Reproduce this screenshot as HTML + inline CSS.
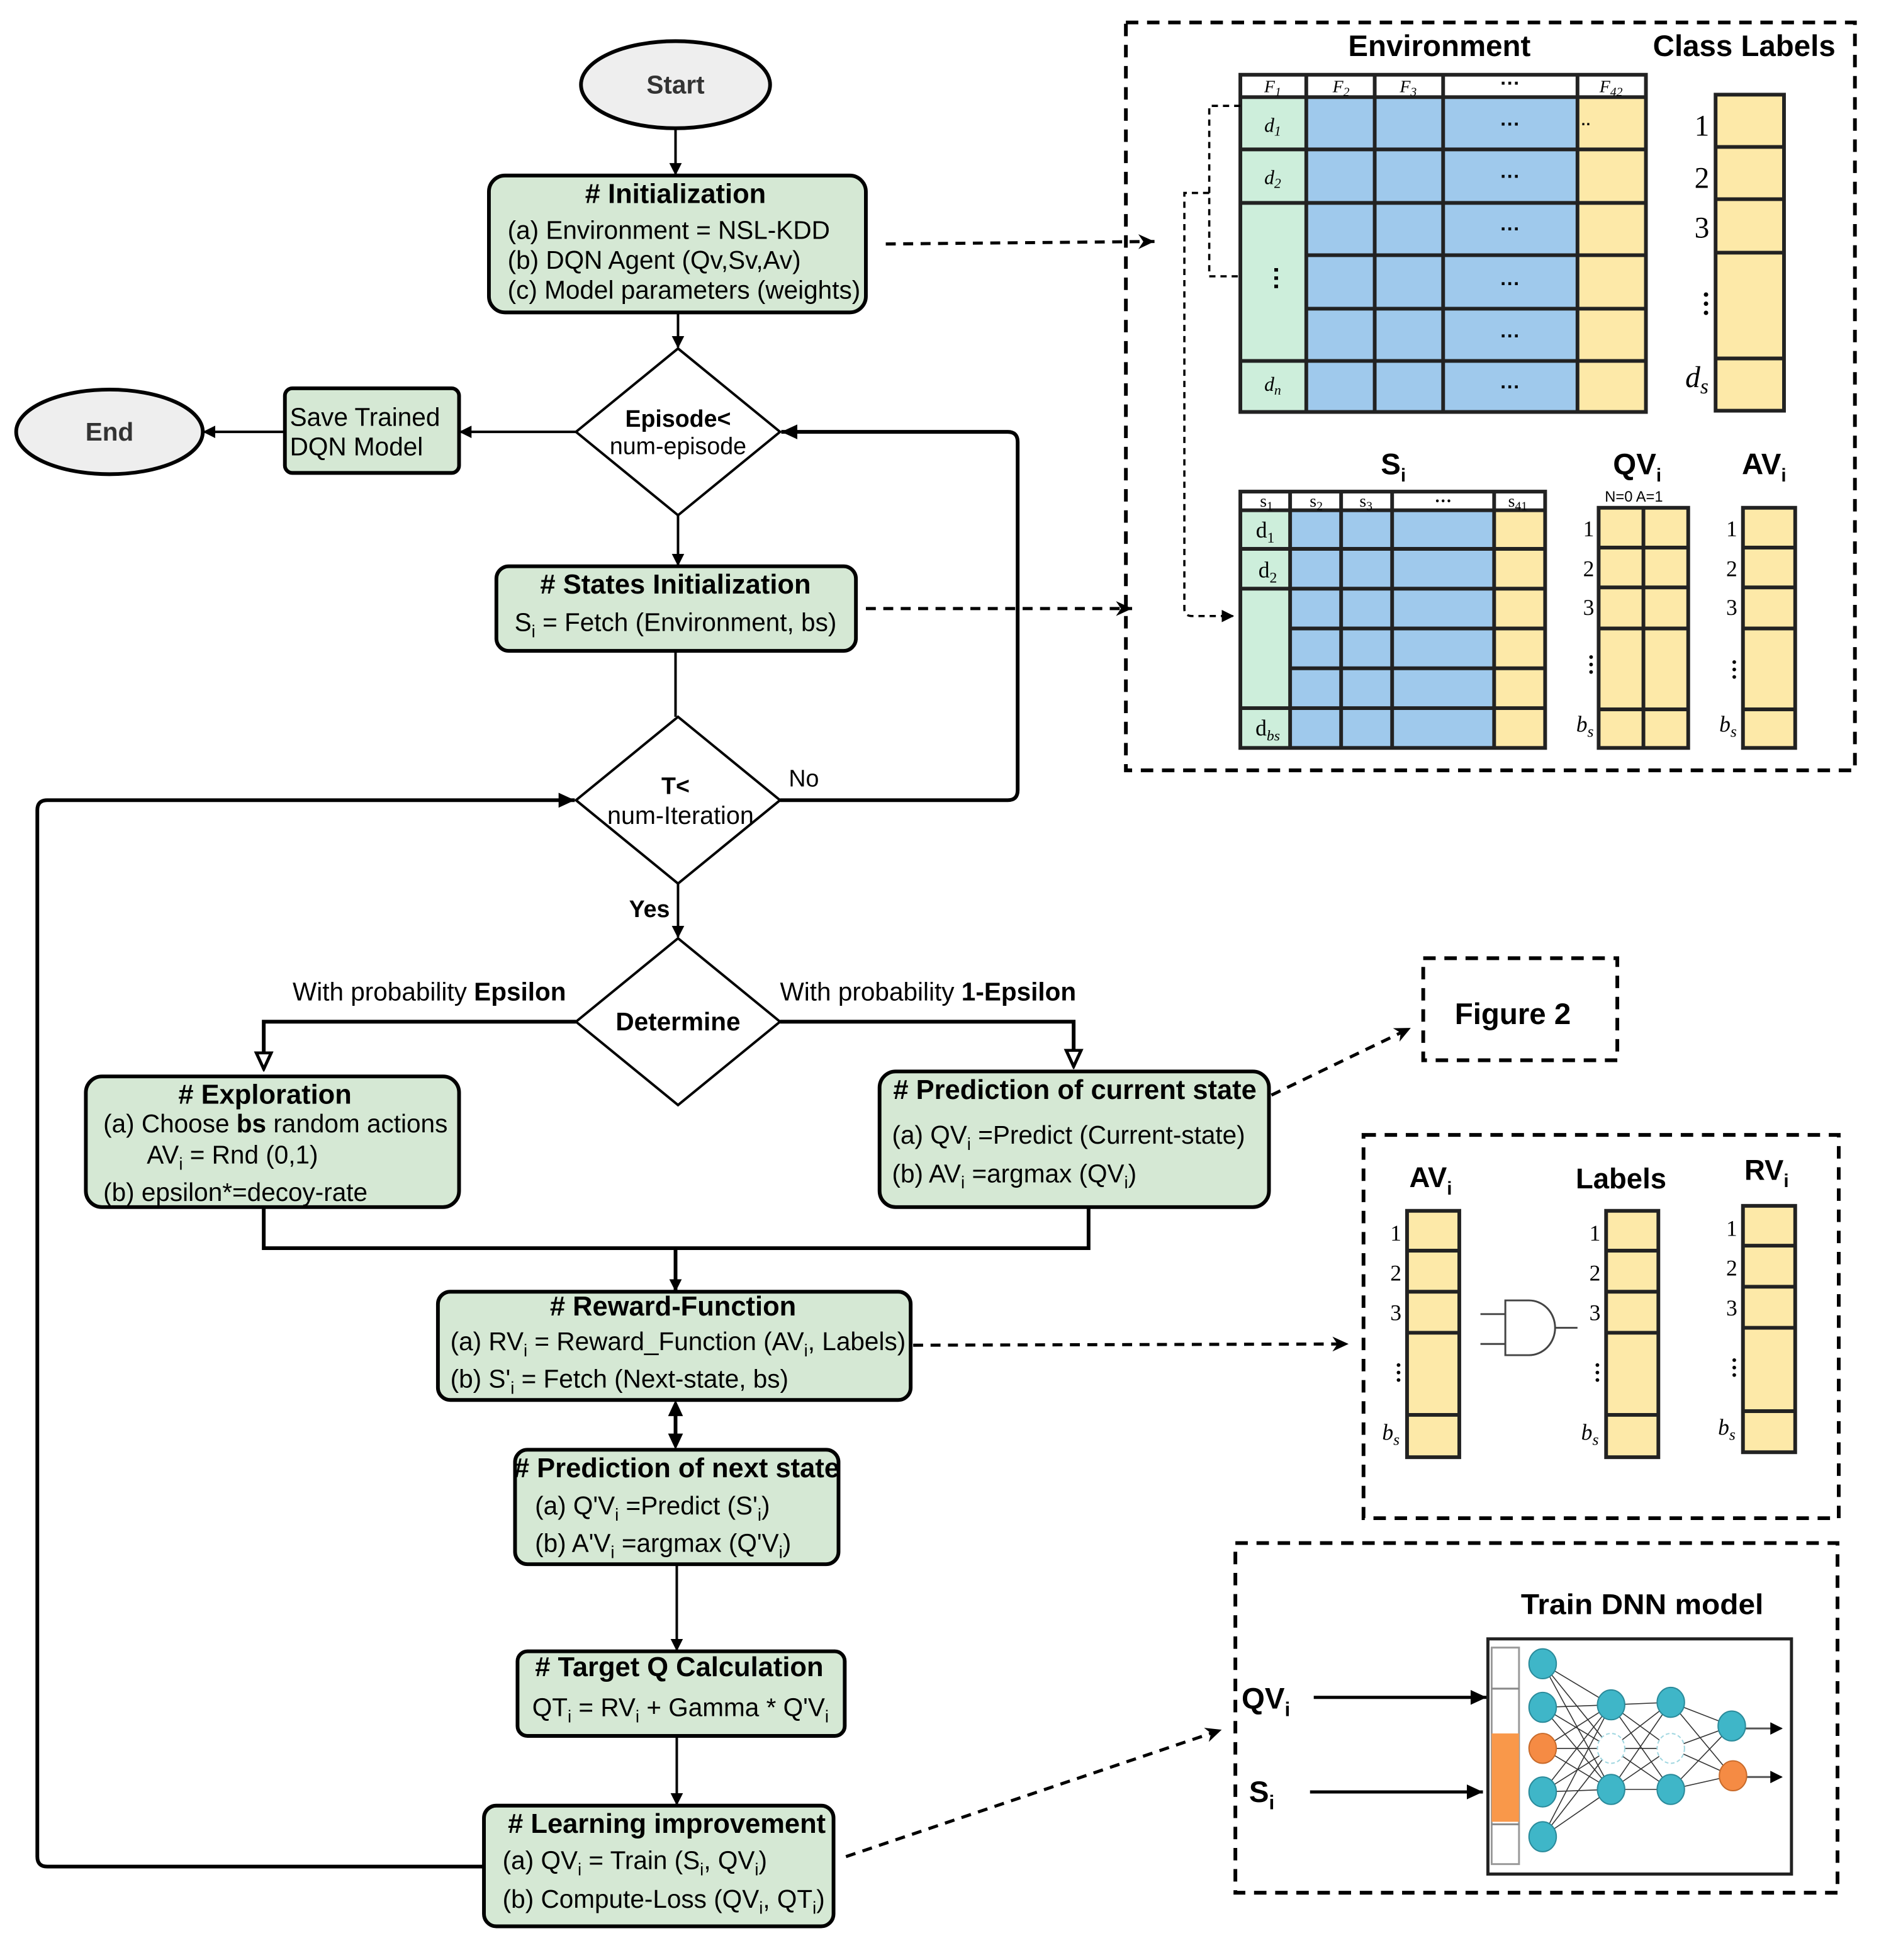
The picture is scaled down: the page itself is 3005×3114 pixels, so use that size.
<!DOCTYPE html>
<html><head><meta charset="utf-8"><style>html,body{margin:0;padding:0;background:#fff}svg{display:block}</style></head>
<body>
<svg xmlns="http://www.w3.org/2000/svg" width="3005" height="3114" viewBox="0 0 1520 1575" font-family="'Liberation Sans', sans-serif">
<defs>
<marker id="a" markerWidth="10" markerHeight="10" refX="9" refY="5" orient="auto" markerUnits="userSpaceOnUse"><path d="M0,0 L10,5 L0,10 z" fill="#000"/></marker>
<marker id="b" markerWidth="14" markerHeight="14" refX="13" refY="7" orient="auto" markerUnits="userSpaceOnUse"><path d="M0,1 L13,7 L0,13 z" fill="#000"/></marker>
<marker id="o" markerWidth="16" markerHeight="16" refX="14" refY="8" orient="auto" markerUnits="userSpaceOnUse"><path d="M1,2 L14,8 L1,14 z" fill="#fff" stroke="#000" stroke-width="2.5"/></marker>
<marker id="d" markerWidth="14" markerHeight="12" refX="13" refY="6" orient="auto" markerUnits="userSpaceOnUse"><path d="M0,0 L13,6 L0,12 L4,6 z" fill="#000"/></marker>
</defs>
<rect width="1520" height="1575" fill="#fff"/>

<g stroke="#000" stroke-width="3">
<ellipse cx="543" cy="68" rx="76" ry="35" fill="#eeeeee"/>
<ellipse cx="88" cy="347" rx="75" ry="34" fill="#eeeeee"/>
<rect x="393" y="141" width="303" height="110" rx="13" fill="#d5e8d4"/>
<rect x="229" y="312" width="140" height="68" rx="6" fill="#d5e8d4"/>
<polygon points="545,280 627,347 545,414 463,347" fill="#fff" stroke-width="2"/>
<rect x="399" y="455" width="289" height="68" rx="10" fill="#d5e8d4"/>
<polygon points="545,576 627,643 545,710 463,643" fill="#fff" stroke-width="2"/>
<polygon points="545,754 627,821 545,888 463,821" fill="#fff" stroke-width="2"/>
<rect x="69" y="865" width="300" height="105" rx="13" fill="#d5e8d4"/>
<rect x="707" y="861" width="313" height="109" rx="13" fill="#d5e8d4"/>
<rect x="352" y="1038" width="380" height="87" rx="10" fill="#d5e8d4"/>
<rect x="414" y="1165" width="260" height="92" rx="10" fill="#d5e8d4"/>
<rect x="416" y="1327" width="263" height="68" rx="8" fill="#d5e8d4"/>
<rect x="389" y="1451" width="281" height="97" rx="10" fill="#d5e8d4"/>
</g>

<g stroke="#000" stroke-width="2" fill="none">
<line x1="543" y1="103" x2="543" y2="140" marker-end="url(#a)"/>
<line x1="545" y1="251" x2="545" y2="279" marker-end="url(#a)"/>
<line x1="463" y1="347" x2="370" y2="347" marker-end="url(#a)"/>
<line x1="229" y1="347" x2="164" y2="347" marker-end="url(#a)"/>
<line x1="545" y1="414" x2="545" y2="454" marker-end="url(#a)"/>
<line x1="543" y1="523" x2="543" y2="576"/>
<path d="M627,643 L810,643 Q818,643 818,635 L818,355 Q818,347 810,347 L628,347" stroke-width="3" marker-end="url(#b)"/>
<path d="M389,1500 L38,1500 Q30,1500 30,1492 L30,651 Q30,643 38,643 L462,643" stroke-width="3" marker-end="url(#b)"/>
<line x1="545" y1="710" x2="545" y2="753" marker-end="url(#a)"/>
<path d="M463,821 L212,821 L212,859" stroke-width="3" marker-end="url(#o)"/>
<path d="M627,821 L863,821 L863,857" stroke-width="3" marker-end="url(#o)"/>
<path d="M212,970 L212,1003 L875,1003 L875,970" stroke-width="3"/>
<line x1="543" y1="1003" x2="543" y2="1037" stroke-width="3" marker-end="url(#a)"/>
<line x1="543" y1="1135" x2="543" y2="1155" stroke-width="3"/>
<path d="M543,1125 L537,1138 L549,1138 z M543,1165 L537,1152 L549,1152 z" fill="#000" stroke="none"/>
<line x1="544" y1="1257" x2="544" y2="1326" marker-end="url(#a)"/>
<line x1="544" y1="1395" x2="544" y2="1450" marker-end="url(#a)"/>
</g>

<g stroke="#000" stroke-width="2.5" fill="none" stroke-dasharray="8,6">
<path d="M712,196 L928,194" marker-end="url(#d)"/>
<path d="M696,489 L910,489" marker-end="url(#d)"/>
<path d="M1022,880 L1134,826" marker-end="url(#d)"/>
<path d="M734,1081 L1084,1080" marker-end="url(#d)"/>
<path d="M680,1492 L982,1390" marker-end="url(#d)"/>
</g>

<g font-size="20.5" fill="#000">
<text x="543" y="75" text-anchor="middle" font-weight="bold" fill="#333">Start</text>
<text x="88" y="354" text-anchor="middle" font-weight="bold" fill="#333">End</text>
<text x="543" y="163" text-anchor="middle" font-weight="bold" font-size="22"># Initialization</text>
<text x="408" y="192">(a) Environment = NSL-KDD</text>
<text x="408" y="216">(b) DQN Agent (Qv,Sv,Av)</text>
<text x="408" y="240">(c) Model parameters (weights)</text>
<text x="233" y="342">Save Trained</text>
<text x="233" y="366">DQN Model</text>
<text x="545" y="343" text-anchor="middle" font-weight="bold" font-size="19">Episode&lt;</text>
<text x="545" y="365" text-anchor="middle" font-size="19">num-episode</text>
<text x="543" y="477" text-anchor="middle" font-weight="bold" font-size="22"># States Initialization</text>
<text x="543" y="507" text-anchor="middle">S<tspan font-size="14" dy="5">i</tspan><tspan dy="-5"> = Fetch (Environment, bs)</tspan></text>
<text x="543" y="638" text-anchor="middle" font-weight="bold" font-size="19">T&lt;</text>
<text x="547" y="662" text-anchor="middle" font-size="20">num-Iteration</text>
<text x="634" y="632" font-size="19">No</text>
<text x="522" y="737" text-anchor="middle" font-weight="bold" font-size="19">Yes</text>
<text x="545" y="828" text-anchor="middle" font-weight="bold">Determine</text>
<text x="455" y="804" text-anchor="end">With probability <tspan font-weight="bold">Epsilon</tspan></text>
<text x="627" y="804">With probability <tspan font-weight="bold">1-Epsilon</tspan></text>
<text x="213" y="887" text-anchor="middle" font-weight="bold" font-size="22"># Exploration</text>
<text x="83" y="910">(a) Choose <tspan font-weight="bold">bs</tspan> random actions</text>
<text x="118" y="935">AV<tspan font-size="14" dy="5">i</tspan><tspan dy="-5"> = Rnd (0,1)</tspan></text>
<text x="83" y="965">(b) epsilon*=decoy-rate</text>
<text x="864" y="883" text-anchor="middle" font-weight="bold" font-size="22"># Prediction of current state</text>
<text x="717" y="919">(a) QV<tspan font-size="14" dy="5">i</tspan><tspan dy="-5"> =Predict (Current-state)</tspan></text>
<text x="717" y="950">(b) AV<tspan font-size="14" dy="5">i</tspan><tspan dy="-5"> =argmax (QV</tspan><tspan font-size="14" dy="5">i</tspan><tspan dy="-5">)</tspan></text>
<text x="541" y="1057" text-anchor="middle" font-weight="bold" font-size="22"># Reward-Function</text>
<text x="362" y="1085">(a) RV<tspan font-size="14" dy="5">i</tspan><tspan dy="-5"> = Reward_Function (AV</tspan><tspan font-size="14" dy="5">i</tspan><tspan dy="-5">, Labels)</tspan></text>
<text x="362" y="1115">(b) S'<tspan font-size="14" dy="5">i</tspan><tspan dy="-5"> = Fetch (Next-state, bs)</tspan></text>
<text x="544" y="1187" text-anchor="middle" font-weight="bold" font-size="22"># Prediction of next state</text>
<text x="430" y="1217">(a) Q'V<tspan font-size="14" dy="5">i</tspan><tspan dy="-5"> =Predict (S'</tspan><tspan font-size="14" dy="5">i</tspan><tspan dy="-5">)</tspan></text>
<text x="430" y="1247">(b) A'V<tspan font-size="14" dy="5">i</tspan><tspan dy="-5"> =argmax (Q'V</tspan><tspan font-size="14" dy="5">i</tspan><tspan dy="-5">)</tspan></text>
<text x="546" y="1347" text-anchor="middle" font-weight="bold" font-size="22"># Target Q Calculation</text>
<text x="547" y="1379" text-anchor="middle">QT<tspan font-size="14" dy="5">i</tspan><tspan dy="-5"> = RV</tspan><tspan font-size="14" dy="5">i</tspan><tspan dy="-5"> + Gamma * Q'V</tspan><tspan font-size="14" dy="5">i</tspan></text>
<text x="536" y="1473" text-anchor="middle" font-weight="bold" font-size="22"># Learning improvement</text>
<text x="404" y="1502">(a) QV<tspan font-size="14" dy="5">i</tspan><tspan dy="-5"> = Train (S</tspan><tspan font-size="14" dy="5">i</tspan><tspan dy="-5">, QV</tspan><tspan font-size="14" dy="5">i</tspan><tspan dy="-5">)</tspan></text>
<text x="404" y="1533">(b) Compute-Loss (QV<tspan font-size="14" dy="5">i</tspan><tspan dy="-5">, QT</tspan><tspan font-size="14" dy="5">i</tspan><tspan dy="-5">)</tspan></text>
</g>

<rect x="905" y="18" width="586" height="601" fill="none" stroke="#000" stroke-width="3" stroke-dasharray="10,7"/>
<g font-weight="bold" font-size="24" fill="#000" text-anchor="middle">
<text x="1157" y="45">Environment</text>
<text x="1402" y="45">Class Labels</text>
<text x="1120" y="381">S<tspan font-size="15" dy="6">i</tspan></text>
<text x="1316" y="381">QV<tspan font-size="15" dy="6">i</tspan></text>
<text x="1418" y="381">AV<tspan font-size="15" dy="6">i</tspan></text>
</g>
<rect x="997" y="60" width="326" height="18" fill="#fff"/>
<rect x="997" y="78" width="53" height="253" fill="#cdeedb"/>
<rect x="1050" y="78" width="218" height="253" fill="#9fc9ec"/>
<rect x="1268" y="78" width="55" height="253" fill="#fde9a8"/>
<g stroke="#222" stroke-width="3" fill="none">
<rect x="997" y="60" width="326" height="271"/>
<line x1="997" y1="78" x2="1323" y2="78"/>
<line x1="997" y1="120" x2="1323" y2="120"/>
<line x1="997" y1="163" x2="1323" y2="163"/>
<line x1="1050" y1="205" x2="1323" y2="205"/>
<line x1="1050" y1="248" x2="1323" y2="248"/>
<line x1="997" y1="290" x2="1323" y2="290"/>
<line x1="1050" y1="60" x2="1050" y2="331"/>
<line x1="1105" y1="60" x2="1105" y2="331"/>
<line x1="1160" y1="60" x2="1160" y2="331"/>
<line x1="1268" y1="60" x2="1268" y2="331"/>
</g>
<g font-family="'Liberation Serif', serif" font-style="italic" font-size="14" text-anchor="middle" fill="#000">
<text x="1023" y="74">F<tspan font-size="10" dy="3">1</tspan></text>
<text x="1078" y="74">F<tspan font-size="10" dy="3">2</tspan></text>
<text x="1132" y="74">F<tspan font-size="10" dy="3">3</tspan></text>
<text x="1295" y="74">F<tspan font-size="10" dy="3">42</tspan></text>
<text x="1023" y="106" font-size="16">d<tspan font-size="11" dy="3">1</tspan></text>
<text x="1023" y="148" font-size="16">d<tspan font-size="11" dy="3">2</tspan></text>
<text x="1023" y="314" font-size="16">d<tspan font-size="11" dy="3">n</tspan></text>
</g>
<g font-size="16" font-weight="bold" text-anchor="middle" fill="#000">
<text x="1214" y="72">···</text><text x="1214" y="105">···</text><text x="1214" y="147">···</text><text x="1214" y="189">···</text><text x="1214" y="233">···</text><text x="1214" y="275">···</text><text x="1214" y="316">···</text>
<text x="1275" y="104" font-size="12">··</text>
<text x="1025" y="230" font-size="20" transform="rotate(90 1025 224)">···</text>
</g>
<rect x="1379" y="76" width="55" height="254" fill="#fde9a8" stroke="#222" stroke-width="3"/>
<g stroke="#222" stroke-width="3"><line x1="1379" y1="118" x2="1434" y2="118"/><line x1="1379" y1="160" x2="1434" y2="160"/><line x1="1379" y1="203" x2="1434" y2="203"/><line x1="1379" y1="288" x2="1434" y2="288"/></g>
<g font-family="'Liberation Serif', serif" font-size="24" text-anchor="middle" fill="#000">
<text x="1368" y="109">1</text><text x="1368" y="151">2</text><text x="1368" y="191">3</text>
<text x="1368" y="248" font-size="22" font-weight="bold" transform="rotate(90 1368 244)">···</text>
<text x="1364" y="311" font-style="italic">d<tspan font-size="17" dy="5">s</tspan></text>
</g>
<g stroke="#000" stroke-width="1.8" fill="none" stroke-dasharray="5,4">
<path d="M997,85 L972,85 L972,222 L997,222"/>
<path d="M972,155 L952,155 L952,489 Q952,495 958,495 L991,495" marker-end="url(#a)"/>
</g>
<rect x="997" y="395" width="245" height="15" fill="#fff"/>
<rect x="997" y="410" width="40" height="191" fill="#cdeedb"/>
<rect x="1037" y="410" width="164" height="191" fill="#9fc9ec"/>
<rect x="1201" y="410" width="41" height="191" fill="#fde9a8"/>
<g stroke="#222" stroke-width="3" fill="none">
<rect x="997" y="395" width="245" height="206"/>
<line x1="997" y1="410" x2="1242" y2="410"/>
<line x1="997" y1="441" x2="1242" y2="441"/>
<line x1="997" y1="473" x2="1242" y2="473"/>
<line x1="1037" y1="505" x2="1242" y2="505"/>
<line x1="1037" y1="537" x2="1242" y2="537"/>
<line x1="997" y1="569" x2="1242" y2="569"/>
<line x1="1037" y1="395" x2="1037" y2="601"/>
<line x1="1078" y1="395" x2="1078" y2="601"/>
<line x1="1119" y1="395" x2="1119" y2="601"/>
<line x1="1201" y1="395" x2="1201" y2="601"/>
</g>
<g font-family="'Liberation Serif', serif" font-size="14" text-anchor="middle" fill="#000">
<text x="1018" y="407">s<tspan font-size="10" dy="3">1</tspan></text>
<text x="1058" y="407">s<tspan font-size="10" dy="3">2</tspan></text>
<text x="1098" y="407">s<tspan font-size="10" dy="3">3</tspan></text>
<text x="1160" y="407" font-weight="bold">···</text>
<text x="1220" y="407">s<tspan font-size="10" dy="3">41</tspan></text>
<text x="1017" y="432" font-size="18">d<tspan font-size="12" dy="4">1</tspan></text>
<text x="1019" y="464" font-size="18">d<tspan font-size="12" dy="4">2</tspan></text>
<text x="1019" y="591" font-size="18">d<tspan font-size="12" dy="4" font-style="italic">bs</tspan></text>
</g>
<text x="1290" y="403" font-size="12" fill="#000">N=0  A=1</text>
<rect x="1285" y="408" width="72" height="193" fill="#fde9a8" stroke="#222" stroke-width="3"/>
<g stroke="#222" stroke-width="3"><line x1="1321" y1="408" x2="1321" y2="601"/><line x1="1285" y1="440" x2="1357" y2="440"/><line x1="1285" y1="472" x2="1357" y2="472"/><line x1="1285" y1="505" x2="1357" y2="505"/><line x1="1285" y1="570" x2="1357" y2="570"/></g>
<rect x="1401" y="408" width="42" height="193" fill="#fde9a8" stroke="#222" stroke-width="3"/>
<g stroke="#222" stroke-width="3"><line x1="1401" y1="440" x2="1443" y2="440"/><line x1="1401" y1="472" x2="1443" y2="472"/><line x1="1401" y1="505" x2="1443" y2="505"/><line x1="1401" y1="570" x2="1443" y2="570"/></g>
<g font-family="'Liberation Serif', serif" font-size="18" text-anchor="middle" fill="#000">
<text x="1277" y="431">1</text><text x="1277" y="463">2</text><text x="1277" y="494">3</text>
<text x="1277" y="538" font-weight="bold" transform="rotate(90 1277 534)">···</text>
<text x="1274" y="588" font-style="italic">b<tspan font-size="13" dy="4">s</tspan></text>
<text x="1392" y="431">1</text><text x="1392" y="463">2</text><text x="1392" y="494">3</text>
<text x="1392" y="542" font-weight="bold" transform="rotate(90 1392 538)">···</text>
<text x="1389" y="588" font-style="italic">b<tspan font-size="13" dy="4">s</tspan></text>
</g>

<rect x="1144" y="770" width="156" height="82" fill="none" stroke="#000" stroke-width="3" stroke-dasharray="10,7"/>
<text x="1216" y="823" text-anchor="middle" font-weight="bold" font-size="24">Figure 2</text>

<rect x="1096" y="912" width="382" height="308" fill="none" stroke="#000" stroke-width="3" stroke-dasharray="10,7"/>
<g font-weight="bold" font-size="23" text-anchor="middle" fill="#000">
<text x="1150" y="954">AV<tspan font-size="15" dy="6">i</tspan></text>
<text x="1303" y="955">Labels</text>
<text x="1420" y="948">RV<tspan font-size="15" dy="6">i</tspan></text>
</g>
<g stroke="#222" stroke-width="3" fill="#fde9a8">
<rect x="1131" y="973" width="42" height="198"/><rect x="1291" y="973" width="42" height="198"/><rect x="1401" y="969" width="42" height="198"/>
</g>
<g stroke="#222" stroke-width="3">
<line x1="1131" y1="1005" x2="1173" y2="1005"/><line x1="1131" y1="1038" x2="1173" y2="1038"/><line x1="1131" y1="1071" x2="1173" y2="1071"/><line x1="1131" y1="1137" x2="1173" y2="1137"/>
<line x1="1291" y1="1005" x2="1333" y2="1005"/><line x1="1291" y1="1038" x2="1333" y2="1038"/><line x1="1291" y1="1071" x2="1333" y2="1071"/><line x1="1291" y1="1137" x2="1333" y2="1137"/>
<line x1="1401" y1="1001" x2="1443" y2="1001"/><line x1="1401" y1="1034" x2="1443" y2="1034"/><line x1="1401" y1="1067" x2="1443" y2="1067"/><line x1="1401" y1="1134" x2="1443" y2="1134"/>
</g>
<g font-family="'Liberation Serif', serif" font-size="18" text-anchor="middle" fill="#000">
<text x="1122" y="997">1</text><text x="1122" y="1029">2</text><text x="1122" y="1061">3</text>
<text x="1122" y="1107" font-weight="bold" transform="rotate(90 1122 1103)">···</text>
<text x="1118" y="1157" font-style="italic">b<tspan font-size="13" dy="4">s</tspan></text>
<text x="1282" y="997">1</text><text x="1282" y="1029">2</text><text x="1282" y="1061">3</text>
<text x="1282" y="1107" font-weight="bold" transform="rotate(90 1282 1103)">···</text>
<text x="1278" y="1157" font-style="italic">b<tspan font-size="13" dy="4">s</tspan></text>
<text x="1392" y="993">1</text><text x="1392" y="1025">2</text><text x="1392" y="1057">3</text>
<text x="1392" y="1103" font-weight="bold" transform="rotate(90 1392 1099)">···</text>
<text x="1388" y="1153" font-style="italic">b<tspan font-size="13" dy="4">s</tspan></text>
</g>
<g stroke="#444" stroke-width="1.5" fill="none">
<line x1="1190" y1="1056" x2="1210" y2="1056"/><line x1="1190" y1="1080" x2="1210" y2="1080"/>
<path d="M1210,1045 L1229,1045 A21,22 0 0 1 1229,1089 L1210,1089 Z" fill="#fff"/>
<line x1="1250" y1="1067" x2="1268" y2="1067"/>
</g>

<rect x="993" y="1240" width="484" height="281" fill="none" stroke="#000" stroke-width="3" stroke-dasharray="10,7"/>
<text x="1320" y="1297" text-anchor="middle" font-weight="bold" font-size="23" textLength="195" lengthAdjust="spacingAndGlyphs">Train DNN model</text>
<text x="998" y="1373" font-weight="bold" font-size="24">QV<tspan font-size="16" dy="6">i</tspan></text>
<text x="1004" y="1448" font-weight="bold" font-size="24">S<tspan font-size="16" dy="6">i</tspan></text>
<g stroke="#000" stroke-width="2.5"><line x1="1056" y1="1364" x2="1195" y2="1364" marker-end="url(#b)"/><line x1="1053" y1="1440" x2="1192" y2="1440" marker-end="url(#b)"/></g>
<rect x="1196" y="1317" width="244" height="189" fill="#fff" stroke="#222" stroke-width="2.5"/>
<rect x="1199" y="1324" width="22" height="174" fill="#fff" stroke="#999" stroke-width="1.5"/>
<rect x="1199" y="1393" width="22" height="71" fill="#f9984a"/>
<g stroke="#888" stroke-width="1.5"><line x1="1199" y1="1357" x2="1221" y2="1357"/><line x1="1199" y1="1466" x2="1221" y2="1466"/></g>
<g stroke="#333" stroke-width="0.8">
<path d="M1240,1337 L1295,1370 M1240,1337 L1295,1405 M1240,1337 L1295,1438 M1240,1372 L1295,1370 M1240,1372 L1295,1405 M1240,1372 L1295,1438 M1240,1405 L1295,1370 M1240,1405 L1295,1405 M1240,1405 L1295,1438 M1240,1440 L1295,1370 M1240,1440 L1295,1405 M1240,1440 L1295,1438 M1240,1476 L1295,1370 M1240,1476 L1295,1405 M1240,1476 L1295,1438"/>
<path d="M1295,1370 L1343,1368 M1295,1370 L1343,1405 M1295,1370 L1343,1438 M1295,1405 L1343,1368 M1295,1405 L1343,1405 M1295,1405 L1343,1438 M1295,1438 L1343,1368 M1295,1438 L1343,1405 M1295,1438 L1343,1438"/>
<path d="M1343,1368 L1392,1387 M1343,1368 L1392,1427 M1343,1405 L1392,1387 M1343,1405 L1392,1427 M1343,1438 L1392,1387 M1343,1438 L1392,1427"/>
</g>
<g stroke="#555" stroke-width="1.5"><line x1="1402" y1="1389" x2="1432" y2="1389" marker-end="url(#a)"/><line x1="1402" y1="1428" x2="1432" y2="1428" marker-end="url(#a)"/></g>
<g fill="#3fb6c8" stroke="#2a8a9a" stroke-width="1">
<ellipse cx="1240" cy="1337" rx="11" ry="12"/><ellipse cx="1240" cy="1372" rx="11" ry="12"/><ellipse cx="1240" cy="1405" rx="11" ry="12" fill="#f58b44" stroke="#c86a2a"/><ellipse cx="1240" cy="1440" rx="11" ry="12"/><ellipse cx="1240" cy="1476" rx="11" ry="12"/>
<ellipse cx="1295" cy="1370" rx="11" ry="12"/><ellipse cx="1295" cy="1438" rx="11" ry="12"/>
<ellipse cx="1343" cy="1368" rx="11" ry="12"/><ellipse cx="1343" cy="1438" rx="11" ry="12"/>
<ellipse cx="1392" cy="1387" rx="11" ry="12"/><ellipse cx="1393" cy="1427" rx="11" ry="12" fill="#f58b44" stroke="#c86a2a"/>
</g>
<g fill="#fff" stroke="#9fd6e0" stroke-width="1" stroke-dasharray="3,2"><ellipse cx="1295" cy="1405" rx="11" ry="12"/><ellipse cx="1343" cy="1405" rx="11" ry="12"/></g>
</svg>
</body></html>
